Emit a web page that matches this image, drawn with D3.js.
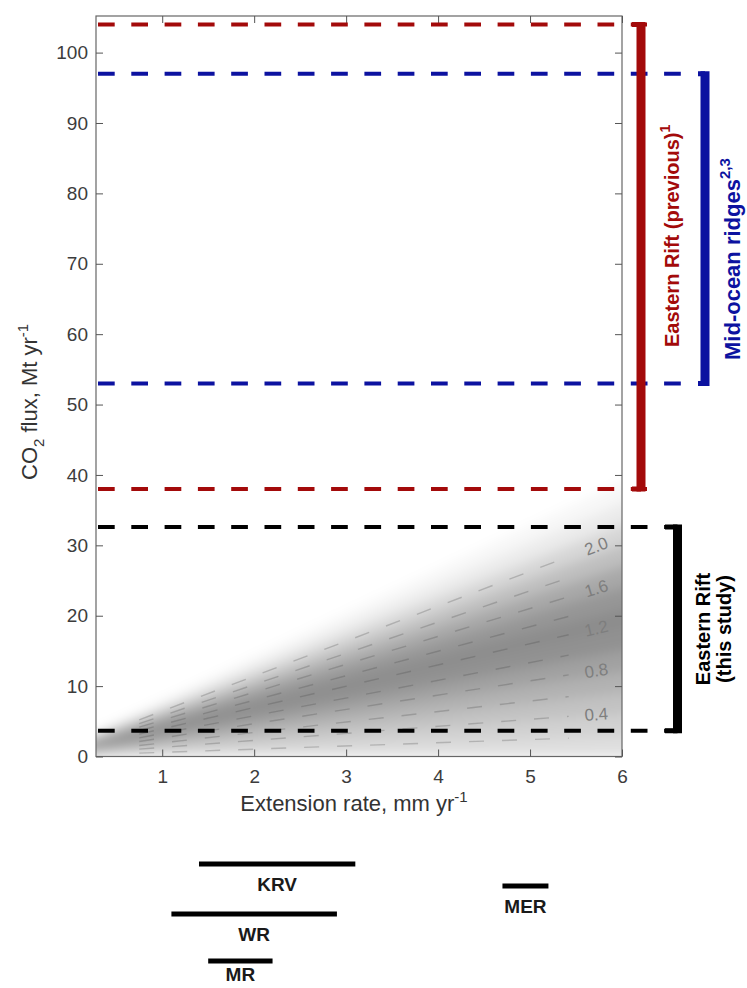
<!DOCTYPE html>
<html lang="en">
<head>
<meta charset="UTF-8">
<title>CO2 flux vs extension rate</title>
<script src="https://d3js.org/d3.v7.min.js"></script>
<style>
  body { margin: 0; background: #fff; }
  svg { display: block; background: #fff; font-family: "Liberation Sans", Arial, Helvetica, sans-serif; }
  .axis text { fill: #3c3c3c; font-size: 19px; }
  .axis line { stroke: #555; }
  .bold { font-weight: bold; }
</style>
</head>
<body>
<script>
// CO2 flux ranges (Mt/yr)
const previousRift = [38, 104];
const midOceanRidges = [53, 97];
const thisStudy = [3.65, 32.6];

// grey fan: flux band edges read at the right edge (6 mm/yr) and darkness of each band
const fanApex = -0.3;
const fanEdgeFlux = [0, 3, 6, 9, 12, 15, 18, 21, 24, 27, 30, 33, 36, 39];
const fanShade = [0.13, 0.18, 0.24, 0.3, 0.37, 0.43, 0.45, 0.41, 0.34, 0.25, 0.16, 0.08, 0.03];

// dashed model lines: label and flux where the dashes stop (5.42 mm/yr)
const modelK = [0.2, 0.4, 0.6, 0.8, 1.0, 1.2, 1.4, 1.6, 1.8, 2.0];
const modelEndFlux = [2.6, 5.7, 8.5, 11.6, 14.4, 17.3, 19.9, 22.7, 25.4, 28.4];
const modelLabelled = [0.4, 0.8, 1.2, 1.6, 2.0];

// extension rates of rift segments (mm/yr)
const riftNames = ["KRV", "WR", "MR", "MER"];
const riftMin = [1.4, 1.1, 1.5, 4.7];
const riftMax = [3.1, 2.9, 2.2, 5.2];

const xTicks = [1, 2, 3, 4, 5, 6];
const yTicks = [0, 10, 20, 30, 40, 50, 60, 70, 80, 90, 100];

const width = 747, height = 988;
const plot = {left: 96, right: 622, top: 16, bottom: 756.5};

const red = "#a30a0a", blue = "#0c12a0";

const svg = d3.select("body").append("svg")
    .attr("width", width)
    .attr("height", height);

const xScale = d3.scaleLinear().domain([0.28, 6]).range([plot.left, plot.right]);
const yScale = d3.scaleLinear().domain([0, 105.2]).range([plot.bottom, plot.top]);

const defs = svg.append("defs");
defs.append("clipPath").attr("id", "plotclip")
    .append("rect")
    .attr("x", plot.left).attr("y", plot.top)
    .attr("width", plot.right - plot.left).attr("height", plot.bottom - plot.top);
defs.append("filter").attr("id", "soft")
    .attr("x", "-20%").attr("y", "-20%").attr("width", "140%").attr("height", "140%")
    .append("feGaussianBlur").attr("stdDeviation", 6);

// grey fan
const fan = svg.append("g").attr("clip-path", "url(#plotclip)")
    .append("g").attr("filter", "url(#soft)");
fan.selectAll("path")
    .data(fanShade)
    .join("path")
    .attr("d", (s, i) => {
        const r = 6.4, k = (r - fanApex) / (6 - fanApex);
        return `M${xScale(fanApex)},${yScale(0)} L${xScale(r)},${yScale(fanEdgeFlux[i] * k)} L${xScale(r)},${yScale(fanEdgeFlux[i + 1] * k)} Z`;
    })
    .attr("fill", "#000")
    .attr("fill-opacity", s => s);

// dashed model lines
const fluxAt = (i, r) => modelEndFlux[i] * (r - fanApex) / (5.42 - fanApex);
const model = svg.append("g").attr("clip-path", "url(#plotclip)");
model.selectAll("line")
    .data(modelK)
    .join("line")
    .attr("x1", xScale(0.75))
    .attr("y1", (k, i) => yScale(fluxAt(i, 0.75)))
    .attr("x2", xScale(5.42))
    .attr("y2", (k, i) => yScale(fluxAt(i, 5.42)))
    .attr("stroke", "#444")
    .attr("stroke-width", 1.4)
    .attr("stroke-opacity", 0.26)
    .attr("stroke-dasharray", "15,18");

model.selectAll("text")
    .data(modelLabelled)
    .join("text")
    .attr("transform", k => {
        const i = modelK.indexOf(k);
        const dx = xScale(5.42) - xScale(fanApex);
        const dy = yScale(modelEndFlux[i]) - yScale(0);
        const ang = Math.atan2(dy, dx) * 180 / Math.PI;
        return `translate(${xScale(5.72)},${yScale(fluxAt(i, 5.72))}) rotate(${ang})`;
    })
    .attr("text-anchor", "middle")
    .attr("dy", "0.35em")
    .attr("fill", "#7e7e7e")
    .style("font-size", "17px")
    .text(k => k.toFixed(1));

// frame and axes
svg.append("rect")
    .attr("x", plot.left).attr("y", plot.top)
    .attr("width", plot.right - plot.left).attr("height", plot.bottom - plot.top)
    .attr("fill", "none").attr("stroke", "#666").attr("stroke-width", 1.2);

svg.append("g").attr("class", "axis")
    .attr("transform", `translate(${plot.left},0)`)
    .call(d3.axisLeft(yScale).tickValues(yTicks).tickSize(-7).tickPadding(8).tickFormat(d3.format("d")))
    .call(g => g.select(".domain").remove());
svg.append("g").attr("class", "axis")
    .attr("transform", `translate(${plot.right},0)`)
    .call(d3.axisRight(yScale).tickValues(yTicks).tickSize(-7).tickFormat(""))
    .call(g => g.select(".domain").remove());
svg.append("g").attr("class", "axis")
    .attr("transform", `translate(0,${plot.bottom})`)
    .call(d3.axisBottom(xScale).tickValues(xTicks).tickSize(-7).tickPadding(13).tickFormat(d3.format("d")))
    .call(g => g.select(".domain").remove());
svg.append("g").attr("class", "axis")
    .attr("transform", `translate(0,${plot.top})`)
    .call(d3.axisTop(xScale).tickValues(xTicks).tickSize(-7).tickFormat(""))
    .call(g => g.select(".domain").remove());

// horizontal dashed ranges
function dashed(vals, x2, color) {
    svg.append("g").selectAll("line")
        .data(vals)
        .join("line")
        .attr("x1", 98).attr("x2", x2)
        .attr("y1", d => yScale(d)).attr("y2", d => yScale(d))
        .attr("stroke", color)
        .attr("stroke-width", 4)
        .attr("stroke-dasharray", "16.7,16.6");
}
dashed(previousRift, 647, red);
dashed(midOceanRidges, 681, blue);
dashed(thisStudy, 681, "#000");

// brackets
function bracket(vals, xv, capLeft, color) {
    const yTop = yScale(vals[1]), yBot = yScale(vals[0]);
    svg.append("line")
        .attr("x1", xv).attr("x2", xv)
        .attr("y1", yTop - 2.5).attr("y2", yBot + 2.5)
        .attr("stroke", color).attr("stroke-width", 9);
    svg.append("path")
        .attr("d", `M${capLeft},${yTop} H${xv} M${capLeft},${yBot} H${xv}`)
        .attr("stroke", color).attr("stroke-width", 5).attr("fill", "none");
}
bracket(previousRift, 641, 632, red);
bracket(midOceanRidges, 705, 698, blue);
bracket(thisStudy, 677.5, 665, "#000");

// bracket labels
const t1 = svg.append("text").attr("class", "bold")
    .attr("transform", "translate(678.5,347) rotate(-90)")
    .attr("fill", red).style("font-size", "20px");
t1.append("tspan").text("Eastern Rift (previous)");
t1.append("tspan").attr("dy", -9).style("font-size", "14px").text("1");

const t2 = svg.append("text").attr("class", "bold")
    .attr("transform", "translate(740,360) rotate(-90)")
    .attr("fill", blue).style("font-size", "22px");
t2.append("tspan").text("Mid-ocean ridges");
t2.append("tspan").attr("dy", -10).style("font-size", "15px").text("2,3");

const t3 = svg.append("text").attr("class", "bold")
    .attr("transform", "translate(710,629) rotate(-90)")
    .attr("text-anchor", "middle")
    .attr("fill", "#000").style("font-size", "20px");
t3.append("tspan").attr("x", 0).text("Eastern Rift");
t3.append("tspan").attr("x", 0).attr("dy", 21).text("(this study)");

// axis titles
const yl = svg.append("text")
    .attr("transform", "translate(37,480) rotate(-90)")
    .attr("fill", "#333").style("font-size", "22px");
yl.append("tspan").text("CO");
yl.append("tspan").attr("dy", 7).style("font-size", "15px").text("2");
yl.append("tspan").attr("dy", -7).text(" flux, Mt yr");
yl.append("tspan").attr("dy", -9).style("font-size", "15px").text("-1");

const xl = svg.append("text")
    .attr("x", 354).attr("y", 811)
    .attr("text-anchor", "middle")
    .attr("fill", "#333").style("font-size", "22px");
xl.append("tspan").text("Extension rate, mm yr");
xl.append("tspan").attr("dy", -9).style("font-size", "15px").text("-1");

// rift segment extension-rate bars
const rowY = {KRV: 864, WR: 914, MR: 961, MER: 886};
const rifts = svg.append("g");
rifts.selectAll("line")
    .data(riftNames)
    .join("line")
    .attr("x1", (d, i) => xScale(riftMin[i]))
    .attr("x2", (d, i) => xScale(riftMax[i]))
    .attr("y1", d => rowY[d]).attr("y2", d => rowY[d])
    .attr("stroke", "#000").attr("stroke-width", 5);
rifts.selectAll("text")
    .data(riftNames)
    .join("text")
    .attr("class", "bold")
    .attr("x", (d, i) => (xScale(riftMin[i]) + xScale(riftMax[i])) / 2)
    .attr("y", d => Math.min(rowY[d] + 27, 981))
    .attr("text-anchor", "middle")
    .attr("fill", "#1a1a1a")
    .style("font-size", "19px")
    .text(d => d);
</script>
</body>
</html>
